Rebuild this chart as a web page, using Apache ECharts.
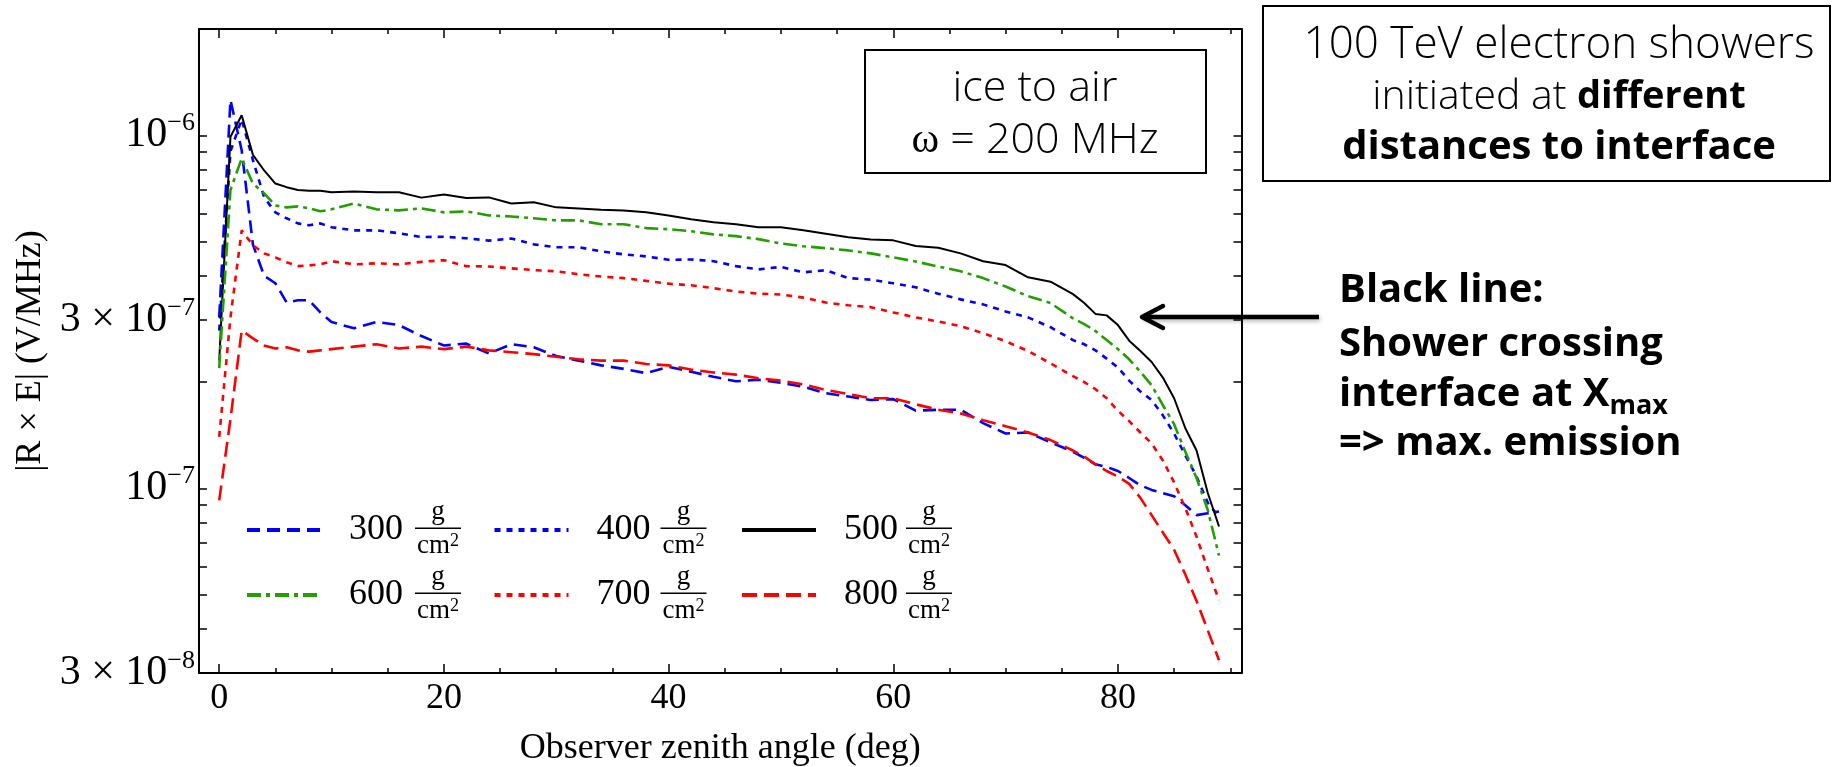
<!DOCTYPE html>
<html>
<head>
<meta charset="utf-8">
<title>|R x E| vs observer zenith angle</title>
<script src="https://cdn.jsdelivr.net/npm/echarts@6.0.0/dist/echarts.min.js"></script>
<style>
  html, body { margin: 0; padding: 0; background: #fff; }
  #chart { width: 1833px; height: 767px; }
</style>
</head>
<body>
<div id="chart"></div>
<script>
  // observer zenith angle (deg), shared by every curve
  var angles = [0, 1, 2, 3, 4, 5, 6, 7, 8, 9, 10, 12, 14, 16, 18, 20, 22, 24, 26, 28, 30, 32, 34, 36, 38,
    40, 42, 44, 46, 48, 50, 52, 54, 56, 58, 60, 62, 64, 66, 68, 70, 72, 74, 76, 77, 78, 79, 80,
    81, 82, 83, 84, 85, 86, 87, 88, 89];

  // |R x E| in V/MHz, one array per depth of shower start (g/cm2)
  var depth300 = [3.05e-7, 1.26e-6, 9.07e-7, 4.9e-7, 4.0e-7, 3.81e-7, 3.36e-7, 3.41e-7, 3.41e-7, 3.15e-7, 2.96e-7,
    2.84e-7, 2.96e-7, 2.9e-7, 2.7e-7, 2.54e-7, 2.57e-7, 2.41e-7, 2.56e-7, 2.51e-7, 2.37e-7, 2.3e-7, 2.23e-7, 2.18e-7,
    2.12e-7, 2.21e-7, 2.14e-7, 2.07e-7, 2.01e-7, 2.03e-7, 1.99e-7, 1.94e-7, 1.86e-7, 1.82e-7, 1.78e-7, 1.79e-7,
    1.66e-7, 1.67e-7, 1.67e-7, 1.53e-7, 1.43e-7, 1.44e-7, 1.35e-7, 1.27e-7, 1.22e-7, 1.17e-7, 1.15e-7, 1.12e-7,
    1.07e-7, 1.02e-7, 9.9e-8, 9.7e-8, 9.5e-8, 8.96e-8, 8.4e-8, 8.5e-8, 8.6e-8];
  var depth400 = [2.8e-7, 9.0e-7, 1.11e-6, 8.5e-7, 6.67e-7, 6.05e-7, 5.82e-7, 5.63e-7, 5.56e-7, 5.63e-7, 5.49e-7,
    5.38e-7, 5.38e-7, 5.28e-7, 5.15e-7, 5.16e-7, 5.11e-7, 5.03e-7, 5.1e-7, 4.91e-7, 4.82e-7, 4.82e-7, 4.69e-7, 4.6e-7,
    4.54e-7, 4.44e-7, 4.45e-7, 4.4e-7, 4.26e-7, 4.17e-7, 4.24e-7, 4.09e-7, 4.15e-7, 3.94e-7, 3.9e-7, 3.81e-7,
    3.71e-7, 3.56e-7, 3.43e-7, 3.32e-7, 3.17e-7, 3.05e-7, 2.86e-7, 2.63e-7, 2.56e-7, 2.46e-7, 2.33e-7, 2.2e-7,
    2.02e-7, 1.88e-7, 1.78e-7, 1.61e-7, 1.43e-7, 1.24e-7, 1.08e-7, 9.1e-8, 8.3e-8];
  var depth500 = [2.3e-7, 9.9e-7, 1.14e-6, 8.8e-7, 7.95e-7, 7.3e-7, 7.13e-7, 7.0e-7, 6.96e-7, 6.96e-7, 6.9e-7,
    6.93e-7, 6.9e-7, 6.9e-7, 6.66e-7, 6.8e-7, 6.64e-7, 6.67e-7, 6.41e-7, 6.46e-7, 6.25e-7, 6.2e-7, 6.15e-7, 6.12e-7,
    6.05e-7, 5.93e-7, 5.78e-7, 5.67e-7, 5.6e-7, 5.49e-7, 5.49e-7, 5.38e-7, 5.26e-7, 5.14e-7, 5.07e-7, 5.04e-7,
    4.86e-7, 4.8e-7, 4.63e-7, 4.4e-7, 4.29e-7, 3.96e-7, 3.85e-7, 3.55e-7, 3.35e-7, 3.12e-7, 3.09e-7, 2.9e-7,
    2.62e-7, 2.45e-7, 2.28e-7, 2.06e-7, 1.8e-7, 1.48e-7, 1.28e-7, 9.7e-8, 7.8e-8];
  var depth600 = [2.19e-7, 7.0e-7, 8.6e-7, 7.3e-7, 6.85e-7, 6.33e-7, 6.25e-7, 6.29e-7, 6.21e-7, 6.09e-7, 6.17e-7,
    6.41e-7, 6.17e-7, 6.13e-7, 6.21e-7, 6.05e-7, 6.09e-7, 5.93e-7, 5.89e-7, 5.82e-7, 5.74e-7, 5.74e-7, 5.6e-7, 5.6e-7,
    5.46e-7, 5.42e-7, 5.35e-7, 5.24e-7, 5.18e-7, 5.08e-7, 4.94e-7, 4.85e-7, 4.79e-7, 4.72e-7, 4.63e-7, 4.51e-7,
    4.39e-7, 4.25e-7, 4.12e-7, 3.94e-7, 3.73e-7, 3.5e-7, 3.35e-7, 3.03e-7, 2.92e-7, 2.79e-7, 2.63e-7, 2.48e-7,
    2.32e-7, 2.14e-7, 1.96e-7, 1.72e-7, 1.52e-7, 1.27e-7, 1.07e-7, 8.67e-8, 6.45e-8];
  var depth700 = [1.4e-7, 3.05e-7, 5.38e-7, 4.88e-7, 4.63e-7, 4.51e-7, 4.37e-7, 4.26e-7, 4.28e-7, 4.31e-7, 4.4e-7,
    4.31e-7, 4.34e-7, 4.31e-7, 4.38e-7, 4.43e-7, 4.26e-7, 4.25e-7, 4.2e-7, 4.15e-7, 4.12e-7, 4.04e-7, 3.98e-7, 3.94e-7,
    3.87e-7, 3.8e-7, 3.76e-7, 3.69e-7, 3.61e-7, 3.56e-7, 3.54e-7, 3.47e-7, 3.36e-7, 3.3e-7, 3.26e-7, 3.15e-7,
    3.05e-7, 2.97e-7, 2.88e-7, 2.75e-7, 2.61e-7, 2.45e-7, 2.26e-7, 2.08e-7, 2.0e-7, 1.91e-7, 1.8e-7, 1.66e-7,
    1.55e-7, 1.44e-7, 1.34e-7, 1.2e-7, 1.04e-7, 8.8e-8, 7.3e-8, 5.9e-8, 4.82e-8];
  var depth800 = [9.25e-8, 1.57e-7, 2.8e-7, 2.66e-7, 2.54e-7, 2.49e-7, 2.51e-7, 2.46e-7, 2.44e-7, 2.46e-7, 2.48e-7,
    2.52e-7, 2.56e-7, 2.49e-7, 2.52e-7, 2.48e-7, 2.52e-7, 2.46e-7, 2.43e-7, 2.4e-7, 2.36e-7, 2.32e-7, 2.3e-7, 2.3e-7,
    2.25e-7, 2.23e-7, 2.17e-7, 2.13e-7, 2.1e-7, 2.05e-7, 2.02e-7, 1.97e-7, 1.9e-7, 1.85e-7, 1.8e-7, 1.8e-7,
    1.73e-7, 1.67e-7, 1.63e-7, 1.56e-7, 1.5e-7, 1.44e-7, 1.37e-7, 1.28e-7, 1.23e-7, 1.17e-7, 1.12e-7, 1.08e-7,
    1.03e-7, 9.4e-8, 8.4e-8, 7.5e-8, 6.7e-8, 5.7e-8, 4.8e-8, 3.96e-8, 3.26e-8];

  var seriesNames = ['300', '400', '500', '600', '700', '800'];

  // axis ticks and labels
  var xMajorTicks = [0, 20, 40, 60, 80];
  var xMinorTicks = [5, 10, 15, 25, 30, 35, 45, 50, 55, 65, 70, 75, 85, 90];
  var yTicks = [4e-8, 5e-8, 6e-8, 7e-8, 8e-8, 9e-8, 1e-7, 2e-7, 3e-7, 4e-7, 5e-7, 6e-7, 7e-7, 8e-7, 9e-7, 1e-6];
  var yLabelValues = [3e-8, 1e-7, 3e-7, 1e-6];
  var yLabelTexts = ['3 \u00d7 10{sup|\u22128}', '10{sup|\u22127}', '3 \u00d7 10{sup|\u22127}', '10{sup|\u22126}'];

  var serif = "'Liberation Serif', 'Times New Roman', serif";
  var sans = "'Open Sans', 'Noto Sans', 'DejaVu Sans', sans-serif";

  var chart = echarts.init(document.getElementById('chart'));

  function pairs(vals) {
    return angles.map(function (a, i) { return [a, vals[i]]; });
  }

  function yLabel(v) {
    for (var i = 0; i < yLabelValues.length; i++) {
      if (Math.abs(v / yLabelValues[i] - 1) < 1e-4) return yLabelTexts[i];
    }
    return '';
  }

  function xAxisDef(pos, ticks, len, withLine, withLabel) {
    var ax = {
      type: 'value', position: pos, min: -1.8, max: 91,
      axisLine: { show: withLine, onZero: false, lineStyle: { color: '#000', width: 2 } },
      axisTick: { show: true, inside: true, length: len, customValues: ticks, lineStyle: { color: '#000', width: 1.5 } },
      axisLabel: { show: false },
      splitLine: { show: false }
    };
    if (withLabel) {
      ax.axisLabel = { show: true, customValues: xMajorTicks, margin: 8, color: '#000', fontFamily: serif, fontSize: 36 };
      ax.name = 'Observer zenith angle (deg)';
      ax.nameLocation = 'middle';
      ax.nameGap = 58;
      ax.nameTextStyle = { color: '#000', fontFamily: serif, fontSize: 36 };
    }
    return ax;
  }

  function yAxisDef(pos, withLabel) {
    var ax = {
      type: 'log', logBase: 10, position: pos, min: 3e-8, max: 2e-6,
      axisLine: { show: true, onZero: false, lineStyle: { color: '#000', width: 2 } },
      axisTick: { show: true, inside: true, length: 8, customValues: yTicks, lineStyle: { color: '#000', width: 1.5 } },
      axisLabel: { show: false },
      minorTick: { show: false },
      splitLine: { show: false }
    };
    if (withLabel) {
      ax.axisLabel = {
        show: true, customValues: yLabelValues, formatter: yLabel, margin: 4,
        color: '#000', fontFamily: serif, fontSize: 42, lineHeight: 50,
        rich: { sup: { color: '#000', fontFamily: serif, fontSize: 26, lineHeight: 30, verticalAlign: 'top' } }
      };
      ax.name = '|R \u00d7 E| (V/MHz)';
      ax.nameLocation = 'middle';
      ax.nameRotate = 90;
      ax.nameGap = 147;
      ax.nameTextStyle = { color: '#000', fontFamily: serif, fontSize: 36 };
    }
    return ax;
  }

  var styles = [
    { color: '#0000ff', width: 2.6, type: [13, 7] },
    { color: '#0000ff', width: 2.6, type: [6, 6] },
    { color: '#000000', width: 2, type: 'solid' },
    { color: '#22a000', width: 2.6, type: [14, 5, 4, 5] },
    { color: '#ff0000', width: 2.6, type: [6, 6] },
    { color: '#ff0000', width: 2.6, type: [15, 7] }
  ];
  var allData = [depth300, depth400, depth500, depth600, depth700, depth800];

  var series = seriesNames.map(function (name, i) {
    return {
      name: name, type: 'line', data: pairs(allData[i]),
      xAxisIndex: 0, yAxisIndex: 0,
      symbol: 'none', showSymbol: false, smooth: false,
      lineStyle: styles[i], itemStyle: { color: styles[i].color }
    };
  });

  function legendRow(names, top) {
    return {
      data: names, left: 245, top: top, orient: 'horizontal', padding: 0,
      itemWidth: 74, itemHeight: 14, itemGap: 89.5, selectedMode: false,
      itemStyle: { opacity: 0 },
      lineStyle: { width: 4 },
      textStyle: { color: '#000', fontFamily: serif, fontSize: 36, lineHeight: 36, padding: [0, 0, 0, 23] }
    };
  }

  // g / cm2 fractions next to each legend entry
  var fracCols = [415, 660.5, 906];
  var fracRows = [528.3, 593.3];
  var fractions = [];
  fracRows.forEach(function (by) {
    fracCols.forEach(function (bx) {
      fractions.push({ type: 'line', shape: { x1: bx, y1: by, x2: bx + 46, y2: by }, style: { stroke: '#000', lineWidth: 1.6 } });
      fractions.push({ type: 'text', x: bx + 23, y: by - 16,
        style: { text: 'g', fontFamily: serif, fontSize: 27, fill: '#000', align: 'center', verticalAlign: 'middle' } });
      fractions.push({ type: 'text', x: bx + 23, y: by + 18,
        style: { text: 'cm{s|2}', fontFamily: serif, fontSize: 27, lineHeight: 28, fill: '#000', align: 'center', verticalAlign: 'middle',
          rich: { s: { fontFamily: serif, fontSize: 18, lineHeight: 16, verticalAlign: 'top', fill: '#000' } } } });
    });
  });

  var boxText = { fontFamily: sans, fontSize: 43, fontWeight: 300, fill: '#000', align: 'center', verticalAlign: 'middle' };
  var noteText = { fontFamily: sans, fontSize: 40, fontWeight: 'bold', fill: '#000', align: 'left', verticalAlign: 'middle' };
  function withText(base, extra) {
    var o = {};
    for (var k in base) o[k] = base[k];
    for (var j in extra) o[j] = extra[j];
    return o;
  }

  var graphics = fractions.concat([
    // inner box
    { type: 'rect', shape: { x: 865, y: 50, width: 341, height: 123 }, style: { fill: '#fff', stroke: '#000', lineWidth: 2 } },
    { type: 'text', x: 1035, y: 89, style: withText(boxText, { text: 'ice to air' }) },
    { type: 'text', x: 1035, y: 141, style: withText(boxText, { text: '{w|\u03c9} = 200 MHz',
      rich: { w: { fontFamily: serif, fontSize: 42, fill: '#000' } } }) },
    // top-right box
    { type: 'rect', shape: { x: 1263, y: 6, width: 567, height: 175 }, style: { fill: '#fff', stroke: '#000', lineWidth: 2 } },
    { type: 'text', x: 1559, y: 45, style: withText(boxText, { text: '100 TeV electron showers', fontSize: 44 }) },
    { type: 'text', x: 1559, y: 97, style: withText(boxText, { text: 'initiated at {b|different}', fontSize: 41,
      rich: { b: { fontFamily: sans, fontSize: 38, fontWeight: 'bold', fill: '#000' } } }) },
    { type: 'text', x: 1559, y: 148, style: withText(boxText, { text: 'distances to interface', fontSize: 40, fontWeight: 'bold' }) },
    // arrow to the black line
    { type: 'line', shape: { x1: 1143, y1: 317, x2: 1319, y2: 317 },
      style: { stroke: '#000', lineWidth: 4.5, shadowColor: 'rgba(0,0,0,0.3)', shadowBlur: 4, shadowOffsetX: 1, shadowOffsetY: 2 } },
    { type: 'polyline', shape: { points: [[1163, 306], [1142, 317], [1163, 328]] },
      style: { stroke: '#000', lineWidth: 4.5, fill: null, lineJoin: 'round', lineCap: 'round' } },
    // annotation
    { type: 'text', x: 1339, y: 291, style: withText(noteText, { text: 'Black line:' }) },
    { type: 'text', x: 1339, y: 345, style: withText(noteText, { text: 'Shower crossing' }) },
    { type: 'text', x: 1339, y: 395, style: withText(noteText, { text: 'interface at X{sub|max}', lineHeight: 50,
      rich: { sub: { fontFamily: sans, fontSize: 27, fontWeight: 'bold', lineHeight: 22, verticalAlign: 'bottom', fill: '#000' } } }) },
    { type: 'text', x: 1339, y: 444, style: withText(noteText, { text: '=> max. emission' }) }
  ]);

  var option = {
    animation: false,
    backgroundColor: '#fff',
    textStyle: { fontFamily: serif, color: '#000' },
    grid: { left: 199, right: 591.5, top: 29, bottom: 94, containLabel: false, outerBoundsMode: 'none' },
    xAxis: [
      xAxisDef('bottom', xMajorTicks, 9, true, true),
      xAxisDef('bottom', xMinorTicks, 5, false, false),
      xAxisDef('top', xMajorTicks, 9, true, false),
      xAxisDef('top', xMinorTicks, 5, false, false)
    ],
    yAxis: [yAxisDef('left', true), yAxisDef('right', false)],
    legend: [legendRow(['300', '400', '500'], 512), legendRow(['600', '700', '800'], 577)],
    series: series,
    graphic: graphics
  };

  chart.setOption(option);
  window.addEventListener('resize', function () {
    chart.resize();
  });
</script>
</body>
</html>
